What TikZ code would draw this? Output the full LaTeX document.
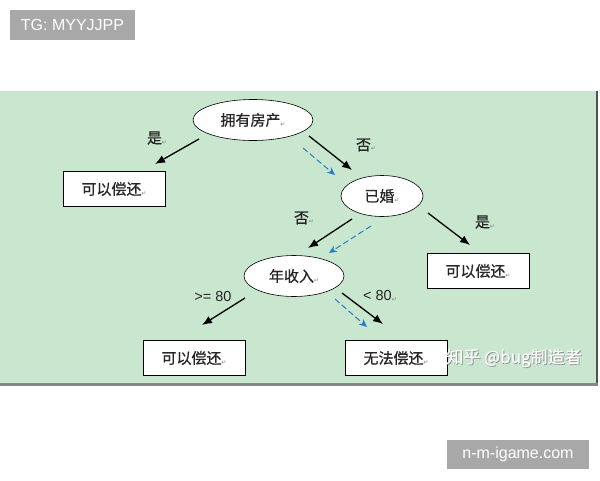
\documentclass[tikz,border=0pt]{standalone}
\usepackage{fontspec}
\setmainfont{Liberation Sans}
\newfontfamily\cjk[FakeBold=0.6]{Noto Sans CJK SC}
\newfontfamily\symb{DejaVu Sans}
\usetikzlibrary{shapes.geometric,arrows.meta}

\definecolor{panelgreen}{RGB}{201,231,207}
\definecolor{markgray}{RGB}{168,168,168}
\definecolor{dashblue}{RGB}{40,125,200}
\definecolor{edgegray}{RGB}{80,85,82}

% return mark after each label
\newcommand{\retmark}{{\symb\fontsize{6}{6}\selectfont\color{gray}\raisebox{-0.2ex}{↵}}}

\begin{document}
\begin{tikzpicture}[x=1pt, y=-1pt,
    every node/.style={font=\cjk\fontsize{15}{15}\selectfont, text=black!85},
    question/.style={ellipse, draw, semithick, fill=white, inner sep=0pt, minimum height=41pt},
    answer/.style={rectangle, draw, semithick, fill=white, inner sep=0pt, minimum width=102pt, minimum height=35pt},
    branch/.style={-{Latex[length=10pt, width=8pt]}, line width=1.3pt},
    hint/.style={-{Stealth[length=8pt, width=7pt]}, dashblue, dash pattern=on 6pt off 3pt, line width=1pt},
    tagbox/.style={fill=markgray, text=white, inner sep=0pt, font=\fontsize{16}{16}\selectfont}]

\useasboundingbox (0,0) rectangle (600,480);

% Panel
\fill[panelgreen] (0,91) rectangle (596,384);
\draw[edgegray, line width=2pt] (596.5,91) -- (596.5,385);
\draw[edgegray!70, line width=2.5pt] (0,384.5) -- (597.5,384.5);

% Questions
\node[question, minimum width=120pt] (own)     at (253,120) {拥有房产\retmark};
\node[question, minimum width=82pt]  (married) at (382,196) {已婚\retmark};
\node[question, minimum width=100pt] (income)  at (294,276) {年收入\retmark};

% Answers
\node[answer] (payA) at (114,189) {可以偿还\retmark};
\node[answer] (payB) at (478,271) {可以偿还\retmark};
\node[answer] (payC) at (194,358) {可以偿还\retmark};
\node[answer] (fail) at (396,358) {无法偿还\retmark};

% Arrow ends
\coordinate (ownL)  at (199,139);  \coordinate (payAT)  at (155,164);
\coordinate (ownR)  at (309,136);  \coordinate (marT)   at (352,170);
\coordinate (marL)  at (352,219);  \coordinate (incT)   at (308,248);
\coordinate (marR)  at (428,213);  \coordinate (payBT)  at (470,245);
\coordinate (incL)  at (245,298);  \coordinate (payCT)  at (202,325);
\coordinate (incR)  at (342,293);  \coordinate (failT)  at (383,324);

\draw[branch] (ownL) -- (payAT);
\draw[branch] (ownR) -- (marT);
\draw[branch] (marL) -- (incT);
\draw[branch] (marR) -- (payBT);
\draw[branch] (incL) -- (payCT);
\draw[branch] (incR) -- (failT);

% Blue dashed path
\coordinate (h1s) at (303,148);  \coordinate (h1e) at (335,175);
\coordinate (h2s) at (371,226);  \coordinate (h2e) at (329,253);
\coordinate (h3s) at (335,299);  \coordinate (h3e) at (367,327);
\draw[hint] (h1s) -- (h1e);
\draw[hint] (h2s) -- (h2e);
\draw[hint] (h3s) -- (h3e);

% Branch labels
\node (yesA) at (157,138) {是\retmark};
\node (noA)  at (366,145) {否\retmark};
\node (noB)  at (304,218) {否\retmark};
\node (yesB) at (485,222) {是\retmark};
\node[font=\fontsize{14.5}{14.5}\selectfont] (geq) at (213,297) {>= 80};
\node[font=\fontsize{14.5}{14.5}\selectfont] (lt)  at (380,296) {< 80\retmark};

% Watermarks
\node[font=\cjk\fontsize{17}{17}\selectfont, text=gray!90] (zhihuS) at (514.8,358.8) {知乎 @bug制造者};
\node[font=\cjk\fontsize{17}{17}\selectfont, text=white!95!panelgreen] (zhihu) at (514,358) {知乎 @bug制造者};
\node[tagbox, minimum width=125pt, minimum height=30pt] (tg)   at (72.5,25) {TG: MYYJJPP};
\node[tagbox, minimum width=142pt, minimum height=29pt] (site) at (518,454.5) {n-m-igame.com};

\end{tikzpicture}
\end{document}
